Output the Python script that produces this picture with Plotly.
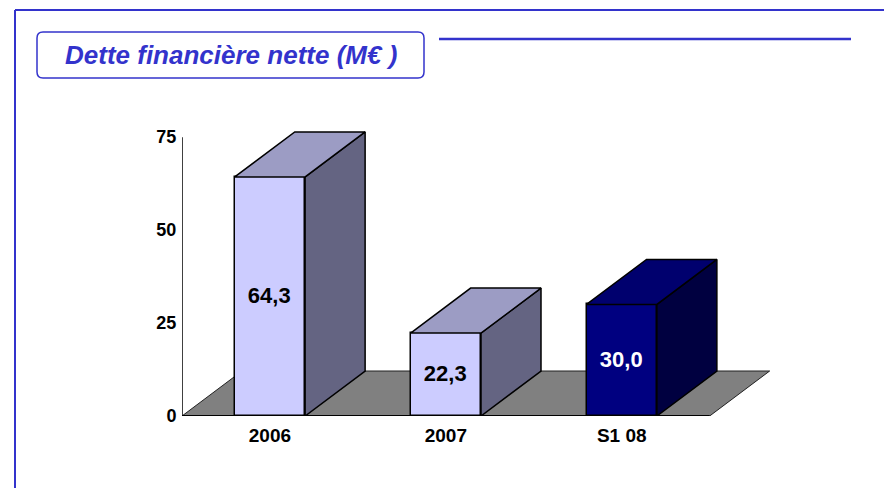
import plotly.graph_objects as go

# ---- data ----
categories = ["2006", "2007", "S1 08"]
values = [64.3, 22.3, 30.0]
value_labels = ["64,3", "22,3", "30,0"]
y_ticks = [0, 25, 50, 75]
title_text = "Dette financière nette (M€ )"

# ---- styles ----
front_colors = ["#CCCCFF", "#CCCCFF", "#000080"]
top_colors = ["#9C9CC4", "#9C9CC4", "#00006E"]
side_colors = ["#646482", "#646482", "#000040"]
text_colors = ["#000000", "#000000", "#FFFFFF"]
BLUE = "#3333CC"
FONT = "Arial, Liberation Sans, sans-serif"

W, H = 884, 488
L, R, T, B = 182, 104, 126, 72
PW, PH = W - L - R, H - T - B
x_range = [-0.5, 2.9]
y_range = [0, 78]
bar_w = 0.4
dx = 60 / (PW / (x_range[1] - x_range[0]))   # depth in x units
dy = 45 / (PH / (y_range[1] - y_range[0]))   # depth in y units

def px(X):
    return (X - L) / PW

def py(Y):
    return (H - B - Y) / PH

xs = list(range(len(categories)))

fig = go.Figure()

# front faces
fig.add_trace(go.Bar(
    x=xs, y=values, width=bar_w,
    marker=dict(color=front_colors, line=dict(color="black", width=1.5)),
    text=value_labels, textposition="inside", insidetextanchor="middle",
    textangle=0, constraintext="none",
    textfont=dict(family=FONT, size=22, color=text_colors, weight="bold"),
    hoverinfo="skip", showlegend=False,
))

# side and top faces
for x, v, tc, sc in zip(xs, values, top_colors, side_colors):
    x0, x1 = x - bar_w / 2, x + bar_w / 2
    fig.add_trace(go.Scatter(
        x=[x1, x1 + dx, x1 + dx, x1, x1], y=[0, dy, v + dy, v, 0],
        mode="lines", fill="toself", fillcolor=sc,
        line=dict(color="black", width=1.5), hoverinfo="skip", showlegend=False))
    fig.add_trace(go.Scatter(
        x=[x0, x0 + dx, x1 + dx, x1, x0], y=[v, v + dy, v + dy, v, v],
        mode="lines", fill="toself", fillcolor=tc,
        line=dict(color="black", width=1.5), hoverinfo="skip", showlegend=False))

n = len(categories)
xl, xr = -0.5, n - 0.5
shapes = [
    # floor
    dict(type="path", xref="x", yref="y", layer="below",
         path=f"M {xl},0 L {xl+dx},{dy} L {xr+dx},{dy} L {xr},0 Z",
         fillcolor="#808080", line=dict(color="#202020", width=1)),
    # baseline
    dict(type="line", xref="x", yref="y", x0=xl, x1=xr, y0=0, y1=0,
         line=dict(color="black", width=2)),
    # y axis line
    dict(type="line", xref="x", yref="y", x0=xl, x1=xl, y0=0, y1=y_ticks[-1],
         line=dict(color="black", width=1.5)),
    # frame
    dict(type="line", xref="paper", yref="paper", x0=px(15), x1=px(884), y0=py(10), y1=py(10),
         line=dict(color=BLUE, width=2)),
    dict(type="line", xref="paper", yref="paper", x0=px(15), x1=px(15), y0=py(10), y1=py(488),
         line=dict(color=BLUE, width=2)),
    # line right of title
    dict(type="line", xref="paper", yref="paper", x0=px(439), x1=px(851), y0=py(39), y1=py(39),
         line=dict(color=BLUE, width=2.5)),
]

# rounded title box
bx0, bx1, by0, by1, r = 37, 424, 32, 78, 6
rx, ry = r / PW, r / PH
X0, X1, Y0, Y1 = px(bx0), px(bx1), py(by1), py(by0)
path = (f"M {X0+rx},{Y1} L {X1-rx},{Y1} Q {X1},{Y1} {X1},{Y1-ry} "
        f"L {X1},{Y0+ry} Q {X1},{Y0} {X1-rx},{Y0} L {X0+rx},{Y0} "
        f"Q {X0},{Y0} {X0},{Y0+ry} L {X0},{Y1-ry} Q {X0},{Y1} {X0+rx},{Y1} Z")
shapes.append(dict(type="path", xref="paper", yref="paper", path=path,
                   line=dict(color=BLUE, width=1.5), fillcolor="rgba(0,0,0,0)"))

fig.update_layout(
    width=W, height=H,
    margin=dict(l=L, r=R, t=T, b=B),
    paper_bgcolor="white", plot_bgcolor="white",
    shapes=shapes,
    annotations=[dict(
        text=title_text, xref="paper", yref="paper",
        x=px((bx0 + bx1) / 2), y=py((by0 + by1) / 2),
        xanchor="center", yanchor="middle", showarrow=False,
        font=dict(family=FONT, size=26, color=BLUE, weight="bold", style="italic"))],
    xaxis=dict(range=x_range, tickvals=xs, ticktext=categories,
               showgrid=False, zeroline=False, showline=False,
               ticks="outside", ticklen=2, tickcolor="rgba(0,0,0,0)",
               tickfont=dict(family=FONT, size=19, color="black", weight="bold"),
               fixedrange=True),
    yaxis=dict(range=y_range, tickvals=y_ticks, ticktext=[str(t) for t in y_ticks],
               showgrid=False, zeroline=False, showline=False,
               ticks="outside", ticklen=1, tickcolor="rgba(0,0,0,0)",
               tickfont=dict(family=FONT, size=18, color="black", weight="bold"),
               fixedrange=True),
    bargap=0,
    showlegend=False,
)

fig.write_html("out.html", config={"displayModeBar": False},
               post_script="document.body.style.margin='0';document.body.style.overflow='hidden';")
